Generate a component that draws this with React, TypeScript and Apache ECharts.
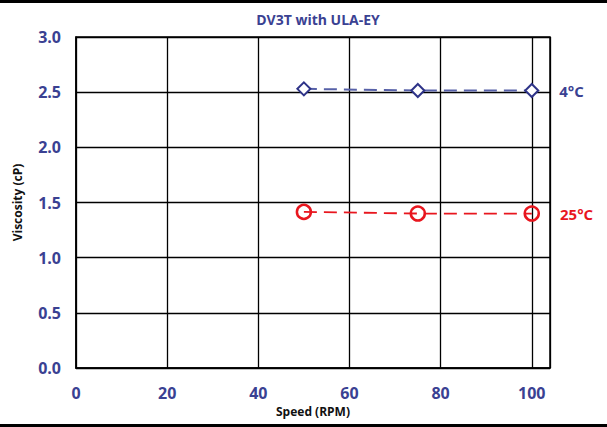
import React, { useEffect, useRef } from "react";
import * as echarts from "echarts";

const speeds = [50, 75, 100];
const visc4C = [2.53, 2.515, 2.515];
const visc25C = [1.415, 1.4, 1.4];
const seriesNames = ["4°C", "25°C"];
const title = "DV3T with ULA-EY";
const xName = "Speed (RPM)";
const yName = "Viscosity (cP)";

const BLUE = "#2e3388";
const BLUE_LABEL = "#3a4192";
const BLUE_LINE = "#5761a8";
const RED = "#e8161e";
const FONT = "'Open Sans', 'Noto Sans', sans-serif";

export default function App() {
  const ref = useRef<HTMLDivElement>(null);
  useEffect(() => {
    document.body.style.margin = "0";
    const chart = echarts.init(ref.current!, null, { renderer: "svg" });
    const lastLabel = (name: string, color: string) => ({
      show: true,
      position: "right",
      distance: 20,
      formatter: name,
      color,
      fontFamily: FONT,
      fontWeight: "bold",
      fontSize: 15,
    });
    chart.setOption({
      animation: false,
      backgroundColor: "#ffffff",
      title: {
        text: title,
        left: 313,
        top: 7,
        textAlign: "center",
        textStyle: { color: BLUE_LABEL, fontFamily: FONT, fontWeight: "bold", fontSize: 14 },
      },
      graphic: [
        { type: "rect", shape: { x: 0, y: 0, width: 607, height: 3 }, style: { fill: "#000" } },
        { type: "rect", shape: { x: 0, y: 424, width: 607, height: 3 }, style: { fill: "#000" } },
      ],
      grid: {
        left: 76,
        top: 37,
        right: 57,
        bottom: 59,
        show: true,
        borderColor: "#000",
        borderWidth: 1.5,
        backgroundColor: "transparent",
      },
      xAxis: {
        type: "value",
        min: 0,
        max: 104,
        interval: 20,
        name: xName,
        nameLocation: "middle",
        nameGap: 35,
        nameTextStyle: { color: "#111", fontFamily: FONT, fontWeight: "bold", fontSize: 12 },
        axisLine: { show: true, lineStyle: { color: "#000", width: 1.5 } },
        axisTick: { show: false },
        splitLine: { show: true, lineStyle: { color: "#000", width: 1.3 } },
        axisLabel: {
          showMaxLabel: false,
          margin: 17,
          color: BLUE_LABEL,
          fontFamily: FONT,
          fontWeight: "bold",
          fontSize: 16,
        },
      },
      yAxis: {
        type: "value",
        min: 0,
        max: 3,
        interval: 0.5,
        name: yName,
        nameLocation: "middle",
        nameRotate: 90,
        nameGap: 53,
        nameTextStyle: { color: "#111", fontFamily: FONT, fontWeight: "bold", fontSize: 12 },
        axisLine: { show: true, lineStyle: { color: "#000", width: 1.5 } },
        axisTick: { show: false },
        splitLine: { show: true, lineStyle: { color: "#000", width: 1.3 } },
        axisLabel: {
          margin: 15,
          color: BLUE_LABEL,
          fontFamily: FONT,
          fontWeight: "bold",
          fontSize: 16,
          formatter: (v: number) => v.toFixed(1),
        },
      },
      series: [
        {
          type: "line",
          name: seriesNames[0],
          data: speeds.map((s, i) => ({
            value: [s, visc4C[i]],
            label: i === speeds.length - 1 ? lastLabel(seriesNames[0], BLUE_LABEL) : { show: false },
          })),
          symbol: "diamond",
          symbolSize: 13,
          itemStyle: { color: "#fff", borderColor: BLUE, borderWidth: 2 },
          lineStyle: { color: BLUE_LINE, width: 2, type: [13, 7] },
          z: 3,
        },
        {
          type: "line",
          name: seriesNames[1],
          data: speeds.map((s, i) => ({
            value: [s, visc25C[i]],
            label: i === speeds.length - 1 ? lastLabel(seriesNames[1], RED) : { show: false },
          })),
          symbol: "circle",
          symbolSize: 14,
          itemStyle: { color: "transparent", borderColor: RED, borderWidth: 2.5 },
          lineStyle: { color: RED, width: 1.8, type: [13, 7] },
          z: 3,
        },
      ],
    });
    return () => chart.dispose();
  }, []);
  return (
    <div
      ref={ref}
      style={{ position: "fixed", left: 0, top: 0, width: 607, height: 427 }}
    />
  );
}
